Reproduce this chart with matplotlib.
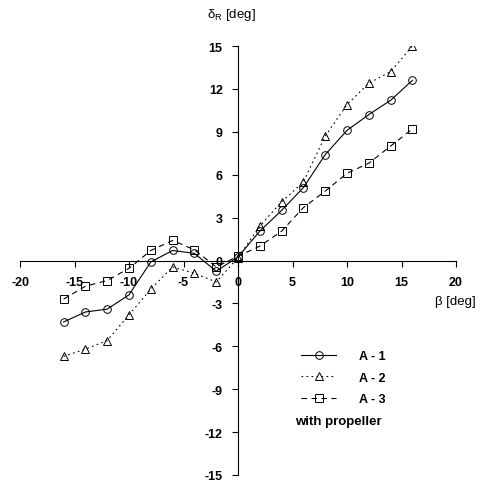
import matplotlib
matplotlib.use('Agg')
import matplotlib.pyplot as plt

# sideslip angle beta [deg]
beta = [-16, -14, -12, -10, -8, -6, -4, -2, 0, 2, 4, 6, 8, 10, 12, 14, 16]

# rudder angle delta_R [deg] for the three configurations (with propeller)
a1 = [-4.3, -3.6, -3.4, -2.4, -0.1, 0.7, 0.5, -0.75, 0.25,
      2.05, 3.5, 5.1, 7.4, 9.1, 10.2, 11.2, 12.6]
a2 = [-6.7, -6.2, -5.6, -3.8, -2.0, -0.45, -0.9, -1.5, 0.2,
      2.4, 4.1, 5.5, 8.7, 10.9, 12.4, 13.2, 15.0]
a3 = [-2.7, -1.8, -1.4, -0.55, 0.7, 1.4, 0.75, -0.45, 0.3,
      1.0, 2.05, 3.7, 4.85, 6.1, 6.8, 8.0, 9.2]

labels = ['A - 1', 'A - 2', 'A - 3']
xticks = [-20, -15, -10, -5, 0, 5, 10, 15, 20]
yticks = [-15, -12, -9, -6, -3, 0, 3, 6, 9, 12, 15]

plt.rcParams['font.family'] = ['Liberation Sans', 'DejaVu Sans']
plt.rcParams['mathtext.default'] = 'regular'
plt.rcParams['axes.unicode_minus'] = False

W, H = 492, 485
fig = plt.figure(figsize=(W / 100, H / 100), dpi=100)
ax = fig.add_axes([20 / W, 1 - 476 / H, 436 / W, 429 / H])

ax.plot(beta, a1, color='black', lw=0.8, ls='-', marker='o', ms=5.5,
        mfc='none', mec='black', mew=0.7, label=labels[0])
ax.plot(beta, a2, color='black', lw=0.8, ls=(0, (1.5, 3)), marker='^', ms=5.5,
        mfc='none', mec='black', mew=0.7, label=labels[1])
ax.plot(beta, a3, color='black', lw=0.8, ls=(0, (5, 4)), marker='s', ms=5.5,
        mfc='none', mec='black', mew=0.7, label=labels[2])

ax.set_xlim(-20, 20)
ax.set_ylim(-15, 15)
ax.spines['left'].set_position(('data', 0))
ax.spines['bottom'].set_position(('data', 0))
ax.spines['top'].set_visible(False)
ax.spines['right'].set_visible(False)
for s in ('left', 'bottom'):
    ax.spines[s].set_linewidth(0.8)
ax.set_xticks(xticks)
ax.set_yticks(yticks)
ax.tick_params(direction='out', length=4, width=0.8, labelsize=9, pad=7)
for t in ax.get_xticklabels() + ax.get_yticklabels():
    t.set_fontweight('bold')

fig.text(207 / W, 1 - 15 / H, r'δ$_R$ [deg]', fontsize=9.5, va='center', ha='left')
fig.text(435 / W, 1 - 302 / H, 'β [deg]', fontsize=9.5, va='center', ha='left')

leg = ax.legend(loc='upper left', bbox_to_anchor=(290 / W, 1 - 340 / H),
                bbox_transform=fig.transFigure, frameon=False,
                handlelength=2.8, handletextpad=1.8, labelspacing=0.75,
                prop={'weight': 'bold', 'size': 9})
fig.text(295 / W, 1 - 422 / H, 'with propeller', fontsize=9.5, fontweight='bold',
         va='center', ha='left')

fig.savefig('out.png', dpi=100)
